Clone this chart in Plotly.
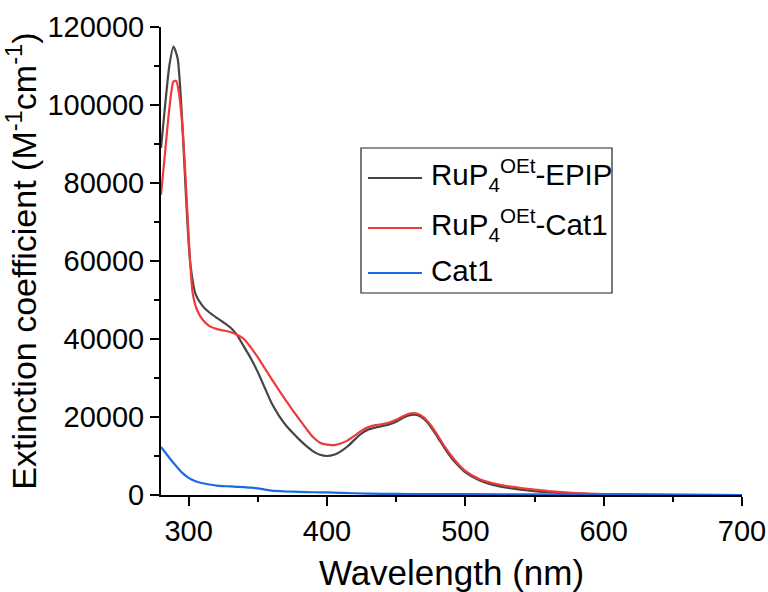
import plotly.graph_objects as go

# UV-vis absorption spectra: extinction coefficient vs wavelength
wl_epip = [280, 283, 286, 289, 292, 295, 298, 301, 305, 310, 315, 320, 325, 330,
           335, 340, 345, 350, 355, 360, 365, 370, 375, 380, 385, 390, 395, 400,
           405, 410, 415, 420, 425, 430, 435, 440, 445, 450, 455, 460, 465, 470,
           475, 480, 485, 490, 495, 500, 510, 520, 530, 540, 550, 560, 580, 600,
           650, 700]
eps_epip = [89000, 100000, 110000, 115000, 112000, 98000, 77000, 60000, 51500,
            48500, 46800, 45500, 44300, 43000, 41000, 38000, 35000, 31500, 27500,
            23500, 20500, 18000, 16000, 14200, 12600, 11200, 10300, 10000, 10300,
            11200, 12500, 14200, 15800, 16800, 17300, 17700, 18100, 18800, 19800,
            20500, 20500, 19500, 17500, 14800, 12000, 9500, 7500, 5800, 3800, 2600,
            1900, 1400, 1000, 700, 350, 200, 50, 0]

wl_cat1c = [280, 283, 286, 289, 291, 293, 296, 299, 301, 303, 306, 310, 315, 320,
            325, 330, 335, 340, 345, 350, 355, 360, 365, 370, 375, 380, 385, 390,
            395, 400, 405, 410, 415, 420, 425, 430, 435, 440, 445, 450, 455, 460,
            465, 470, 475, 480, 485, 490, 495, 500, 510, 520, 530, 540, 550, 560,
            580, 600, 650, 700]
eps_cat1c = [77000, 88000, 99000, 106000, 106200, 103000, 92000, 73000, 60000,
             51500, 47500, 45000, 43300, 42600, 42200, 41800, 41100, 40000, 37800,
             35300, 32500, 29700, 27000, 24400, 21800, 19400, 17000, 14800, 13400,
             12900, 12800, 13200, 14000, 15200, 16500, 17400, 17900, 18200, 18600,
             19300, 20200, 20900, 20900, 19900, 17900, 15300, 12500, 10000, 7900,
             6200, 4100, 3000, 2300, 1800, 1400, 1000, 500, 250, 60, 0]

wl_cat1 = [280, 285, 290, 295, 300, 305, 310, 315, 320, 330, 340, 345, 350, 355,
           360, 370, 380, 390, 400, 420, 440, 460, 480, 500, 550, 600, 650, 700]
eps_cat1 = [12300, 10000, 7800, 5800, 4400, 3500, 3000, 2700, 2400, 2200, 2000,
            1900, 1700, 1400, 1100, 900, 800, 700, 650, 450, 300, 250, 200, 200,
            150, 100, 50, 0]

series_names = ["RuP<sub>4</sub><sup>OEt</sup>-EPIP",
                "RuP<sub>4</sub><sup>OEt</sup>-Cat1",
                "Cat1"]
series_colors = ["#454545", "#F03A3A", "#1B6BE0"]

x_ticks = [300, 400, 500, 600, 700]
y_ticks = [0, 20000, 40000, 60000, 80000, 100000, 120000]

FONT = "Arial, Liberation Sans, sans-serif"
W, H = 768, 592
ML, MR, MT, MB = 161, 26, 27, 97

fig = go.Figure()
for wl, eps, name, col in zip([wl_epip, wl_cat1c, wl_cat1],
                              [eps_epip, eps_cat1c, eps_cat1],
                              series_names, series_colors):
    fig.add_trace(go.Scatter(x=wl, y=eps, mode="lines", name=name,
                             line=dict(color=col, width=2.2, shape="spline",
                                       smoothing=0.6),
                             showlegend=False))

# hand-built legend box (pixel layout converted to paper coordinates)
pw, ph = W - ML - MR, H - MT - MB


def px_x(px):
    return (px - ML) / pw


def px_y(py):
    return (H - MB - py) / ph


box = dict(x0=361, y0=148, x1=612, y1=293)
fig.add_shape(type="rect", xref="paper", yref="paper",
              x0=px_x(box["x0"]), x1=px_x(box["x1"]),
              y0=px_y(box["y1"]), y1=px_y(box["y0"]),
              line=dict(color="#222222", width=1.2), fillcolor="white")

entry_y = [178, 228, 273]
for name, col, ey in zip(series_names, series_colors, entry_y):
    fig.add_shape(type="line", xref="paper", yref="paper",
                  x0=px_x(368), x1=px_x(422), y0=px_y(ey), y1=px_y(ey),
                  line=dict(color=col, width=2.2))
    fig.add_annotation(xref="paper", yref="paper", x=px_x(429), y=px_y(ey - 3),
                       xanchor="left", yanchor="middle", showarrow=False,
                       text=name, font=dict(family=FONT, size=29.5, color="black"))

fig.update_layout(
    width=W, height=H,
    margin=dict(l=ML, r=MR, t=MT, b=MB, pad=0),
    paper_bgcolor="white", plot_bgcolor="white",
    font=dict(family=FONT, color="black"),
)
fig.update_xaxes(
    range=[280, 700], tickvals=x_ticks, ticks="outside", ticklen=9,
    tickwidth=2, tickcolor="black", showline=True, linecolor="black",
    linewidth=2, showgrid=False, zeroline=False, automargin=False,
    tickfont=dict(family=FONT, size=29),
    minor=dict(dtick=50, tick0=300, ticks="outside", ticklen=5, tickwidth=2,
               tickcolor="black", showgrid=False),
    title=dict(text="Wavelength (nm)", font=dict(family=FONT, size=35),
               standoff=18),
)
fig.update_yaxes(
    range=[0, 120000], tickvals=y_ticks, tickformat="d", ticks="outside",
    ticklen=9, tickwidth=2, tickcolor="black", showline=True,
    linecolor="black", linewidth=2, showgrid=False, zeroline=False,
    automargin=False, tickfont=dict(family=FONT, size=29),
    minor=dict(dtick=10000, tick0=0, ticks="outside", ticklen=5, tickwidth=2,
               tickcolor="black", showgrid=False),
    title=dict(text="Extinction coefficient (M<sup>-1</sup>cm<sup>-1</sup>)",
               font=dict(family=FONT, size=34), standoff=1),
)

fig.write_html("out.html")
